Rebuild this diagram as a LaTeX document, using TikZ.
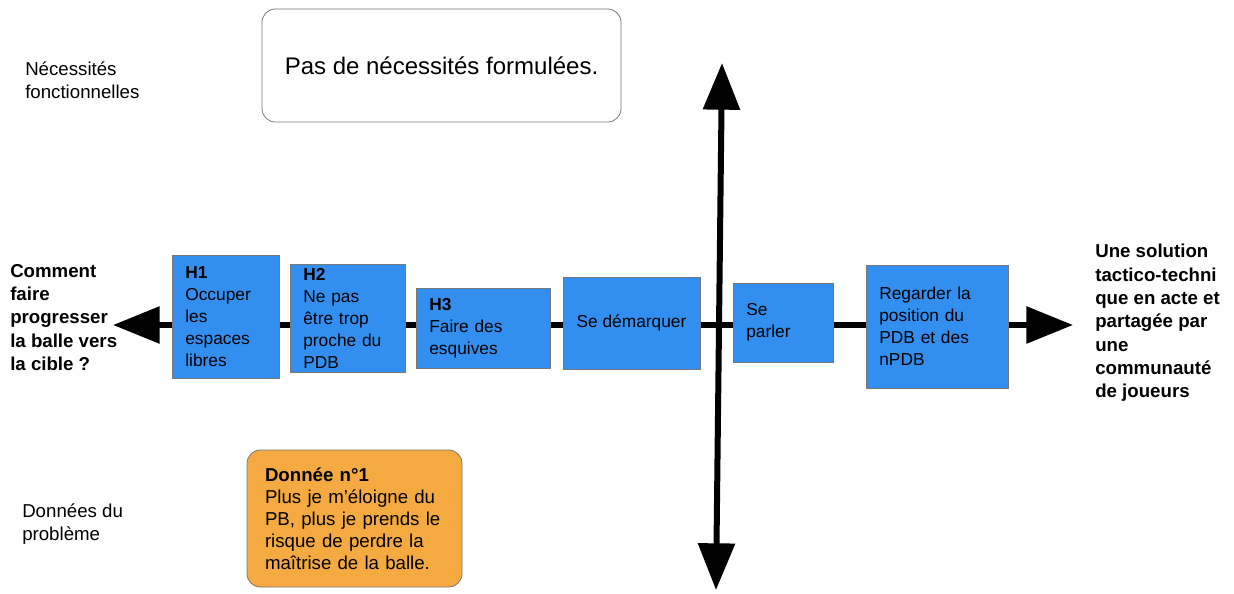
\documentclass[tikz,border=0pt]{standalone}
\usepackage{fontspec}
\setmainfont{Liberation Sans}
\usetikzlibrary{arrows.meta}
\definecolor{bleuboite}{RGB}{50,143,240}
\definecolor{orangeboite}{RGB}{244,170,64}
\definecolor{bordgris}{RGB}{120,120,120}
\tikzset{
	boite/.style={draw=bordgris, line width=0.6pt, fill=bleuboite, inner xsep=10pt, inner ysep=2pt, align=left, font=\fontsize{13}{16.5}\selectfont},
	axe/.style={line width=4.5pt, {Triangle[length=35pt,width=27pt]}-{Triangle[length=35pt,width=27pt]}},
	etiquette/.style={inner sep=0pt, anchor=north west, align=left, font=\fontsize{14}{17.5}\selectfont},
}

\begin{document}
\begin{tikzpicture}[x=0.75pt, y=-0.75pt]
			%%%%% START %%%%%
			\useasboundingbox (0, 0) rectangle (1234, 593);
			
			% axes
			\coordinate (gauche) at (113, 325);
			\coordinate (droite) at (1073, 325);
			\draw[axe] (gauche) -- (droite);
			\coordinate (haut) at (722, 63);
			\coordinate (bas) at (716, 590);
			\draw[axe] (haut) -- (bas);
			
			% hypotheses
			\node[boite, minimum width=80.25pt, minimum height=92.25pt, text width=60.25pt] (h1) at (225.5, 316.5) {\textbf{H1}\\Occuper\\les\\espaces\\libres};
			\node[boite, minimum width=86.25pt, minimum height=81pt, text width=66.25pt] (h2) at (347.5, 318) {\textbf{H2}\\Ne pas\\être trop\\proche du\\PDB};
			\node[boite, minimum width=100.5pt, minimum height=60pt, text width=80.5pt] (h3) at (483, 328) {\textbf{H3}\\Faire des\\esquives};
			\node[boite, minimum width=102.75pt, minimum height=69pt, align=center] (demarquer) at (631.5, 323) {Se démarquer};
			\node[boite, minimum width=75pt, minimum height=59.25pt, text width=55pt] (parler) at (783, 322.5) {Se\\parler};
			\node[boite, minimum width=106.5pt, minimum height=92.25pt, text width=86.5pt] (regarder) at (937, 326.5) {Regarder la\\position du\\PDB et des\\nPDB};
			
			% cadres
			\node[draw=bordgris, line width=0.6pt, fill=white, rounded corners=10pt, minimum width=269.25pt, minimum height=84.75pt, font=\fontsize{18}{22}\selectfont] (necessites) at (441.5, 65.5) {Pas de nécessités formulées.};
			\node[draw=bordgris, line width=0.6pt, fill=orangeboite, rounded corners=10pt, minimum width=161.25pt, minimum height=102.75pt, text width=134.25pt, inner xsep=13.5pt, align=left, font=\fontsize{14}{16.5}\selectfont] (donnee) at (354.5, 518.5) {\textbf{Donnée n°1}\\Plus je m’éloigne du\\PB, plus je prends le\\risque de perdre la\\maîtrise de la balle.};
			
			% etiquettes
			\node[etiquette, font=\bfseries\fontsize{14}{17.5}\selectfont] (question) at (10, 264) {Comment\\faire\\progresser\\la balle vers\\la cible ?};
			\node[etiquette, font=\bfseries\fontsize{14}{17.5}\selectfont] (solution) at (1095, 244) {Une solution\\tactico-techni\\que en acte et\\partagée par\\une\\communauté\\de joueurs};
			\node[etiquette] (fonctionnelles) at (25, 61) {Nécessités\\fonctionnelles};
			\node[etiquette] (probleme) at (22, 503) {Données du\\problème};
			%%%%% END %%%%%
\end{tikzpicture}
\end{document}
